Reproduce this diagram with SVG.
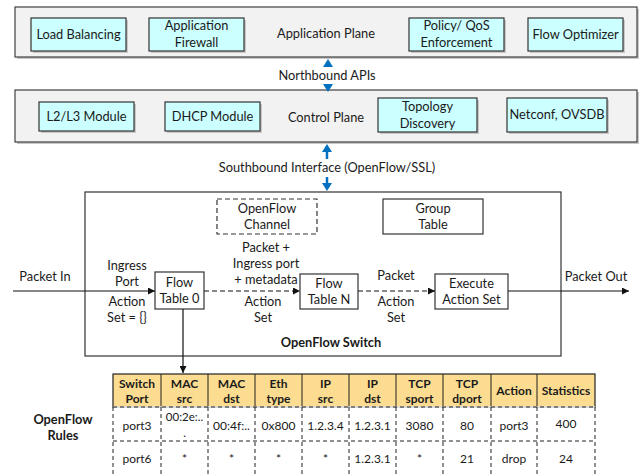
<svg xmlns="http://www.w3.org/2000/svg" width="639" height="474" viewBox="0 0 639 474">
<style>
text{font-family:Lato,"Open Sans","Liberation Sans",sans-serif;font-size:12.8px;fill:#1a1a1a;text-anchor:middle}
.b{font-weight:bold}
.t{font-size:12px}
.panel{fill:#f2f2f2;stroke:#404040;stroke-width:1.2}
.mod{fill:#ccffff;stroke:#333;stroke-width:1.2}
.box{fill:#fff;stroke:#333;stroke-width:1.2}
.sh{fill:#c8c8c8}
.ln{stroke:#111;stroke-width:1.2;fill:none}
.dl{stroke:#111;stroke-width:1.2;fill:none;stroke-dasharray:5,3}
.hd{fill:#fbdc90;stroke:#222;stroke-width:1.2}
.td{stroke:#222;stroke-width:1;stroke-dasharray:4,3;fill:none}
.blue{fill:#0070c0}
.bs{stroke:#0070c0;stroke-width:2.5}
</style>
<defs>
<marker id="ah" viewBox="0 0 10 10" refX="10" refY="5" markerWidth="7" markerHeight="7" orient="auto" markerUnits="userSpaceOnUse"><path d="M0,0L10,5L0,10z" fill="#111"/></marker>
</defs>

<g id="application-plane">
<rect class="sh" x="17" y="9" width="622" height="50"/>
<rect class="panel" x="15" y="7" width="622" height="50"/>
<text x="326" y="38">Application Plane</text>
</g>
<g id="load-balancing"><rect class="sh" x="33" y="20" width="95" height="33"/><rect class="mod" x="31" y="18" width="95" height="33"/><text x="78.5" y="39">Load Balancing</text></g>
<g id="app-firewall"><rect class="sh" x="151" y="20" width="95" height="33"/><rect class="mod" x="149" y="18" width="95" height="33"/><text x="196.5" y="30">Application</text><text x="196.5" y="47">Firewall</text></g>
<g id="policy-qos"><rect class="sh" x="411" y="20" width="95" height="33"/><rect class="mod" x="409" y="18" width="95" height="33"/><text x="456.5" y="30">Policy/ QoS</text><text x="456.5" y="47">Enforcement</text></g>
<g id="flow-optimizer"><rect class="sh" x="530" y="20" width="95" height="33"/><rect class="mod" x="528" y="18" width="95" height="33"/><text x="575.5" y="39">Flow Optimizer</text></g>

<g id="control-plane">
<rect class="sh" x="17" y="92" width="622" height="52"/>
<rect class="panel" x="15" y="90" width="622" height="52"/>
<text x="326" y="122">Control Plane</text>
</g>
<g id="l2l3"><rect class="sh" x="41" y="104" width="95" height="29"/><rect class="mod" x="39" y="102" width="95" height="29"/><text x="86.5" y="121">L2/L3 Module</text></g>
<g id="dhcp"><rect class="sh" x="167" y="104" width="95" height="29"/><rect class="mod" x="165" y="102" width="95" height="29"/><text x="212.5" y="121">DHCP Module</text></g>
<g id="topology"><rect class="sh" x="380" y="100" width="99" height="34"/><rect class="mod" x="378" y="98" width="99" height="34"/><text x="427.5" y="111">Topology</text><text x="427.5" y="128">Discovery</text></g>
<g id="netconf"><rect class="sh" x="509" y="100" width="100" height="34"/><rect class="mod" x="507" y="98" width="100" height="34"/><text x="557" y="119">Netconf, OVSDB</text></g>

<g id="northbound">
<text x="327" y="80">Northbound APIs</text>
<path class="blue" d="M323,67L328,59L333,67z"/>
<path class="blue" d="M323,84L328,92L333,84z"/>
</g>
<g id="southbound">
<text x="327" y="172">Southbound Interface (OpenFlow/SSL)</text>
<line class="bs" x1="327" y1="150" x2="327" y2="159"/>
<path class="blue" d="M322,152L327,144L332,152z"/>
<line class="bs" x1="327" y1="177" x2="327" y2="185"/>
<path class="blue" d="M322,183L327,191L332,183z"/>
</g>

<g id="openflow-switch">
<rect x="85" y="192" width="476" height="164" fill="#fff" stroke="#333" stroke-width="1.2"/>
<text class="b" x="331" y="347">OpenFlow Switch</text>
</g>
<g id="openflow-channel"><rect x="217" y="199" width="100" height="35" fill="#fff" stroke="#333" stroke-width="1.2" stroke-dasharray="5,3"/><text x="267" y="213">OpenFlow</text><text x="267" y="229">Channel</text></g>
<g id="group-table"><rect class="box" x="383" y="199" width="100" height="35"/><text x="433" y="213">Group</text><text x="433" y="229">Table</text></g>
<g id="flow-table-0"><rect class="box" x="155" y="272" width="49" height="37"/><text x="179.5" y="287">Flow</text><text x="179.5" y="303">Table 0</text></g>
<g id="flow-table-n"><rect class="box" x="300" y="274" width="58" height="35"/><text x="329" y="288">Flow</text><text x="329" y="304">Table N</text></g>
<g id="execute-action-set"><rect class="box" x="435" y="274" width="73" height="35"/><text x="471.5" y="288">Execute</text><text x="471.5" y="304">Action Set</text></g>

<g id="connectors">
<line class="ln" x1="13" y1="291" x2="155" y2="291" marker-end="url(#ah)"/>
<line class="dl" x1="204" y1="291" x2="300" y2="291" marker-end="url(#ah)"/>
<line class="dl" x1="358" y1="291" x2="435" y2="291" marker-end="url(#ah)"/>
<line class="ln" x1="508" y1="291" x2="629" y2="291" marker-end="url(#ah)"/>
<line class="ln" x1="183" y1="309" x2="183" y2="373" marker-end="url(#ah)"/>
</g>

<g id="labels">
<text x="45" y="281">Packet In</text>
<text x="127" y="270">Ingress</text>
<text x="127" y="286">Port</text>
<text x="127" y="306">Action</text>
<text x="127" y="322">Set = {}</text>
<text x="266" y="252">Packet +</text>
<text x="266" y="268">Ingress port</text>
<text x="266" y="284">+ metadata</text>
<text x="263" y="306">Action</text>
<text x="263" y="322">Set</text>
<text x="396" y="280">Packet</text>
<text x="396" y="306">Action</text>
<text x="396" y="322">Set</text>
<text x="596" y="281">Packet Out</text>
<text class="b" x="63" y="424">OpenFlow</text>
<text class="b" x="63" y="440">Rules</text>
</g>

<g id="rules-table">
<rect class="hd" x="113" y="374" width="482" height="33"/>
<g stroke="#222" stroke-width="1">
<line x1="161" y1="374" x2="161" y2="407"/><line x1="208" y1="374" x2="208" y2="407"/><line x1="255" y1="374" x2="255" y2="407"/><line x1="302" y1="374" x2="302" y2="407"/><line x1="349" y1="374" x2="349" y2="407"/><line x1="396" y1="374" x2="396" y2="407"/><line x1="443" y1="374" x2="443" y2="407"/><line x1="491" y1="374" x2="491" y2="407"/><line x1="537" y1="374" x2="537" y2="407"/>
</g>
<g class="td">
<line x1="113" y1="407" x2="595" y2="407" stroke="#fff" stroke-dasharray="none" stroke-width="1.5"/>
<line x1="113" y1="407" x2="595" y2="407"/>
<line x1="113" y1="441" x2="595" y2="441"/>
<line x1="113" y1="407" x2="113" y2="474"/><line x1="161" y1="407" x2="161" y2="474"/><line x1="208" y1="407" x2="208" y2="474"/><line x1="255" y1="407" x2="255" y2="474"/><line x1="302" y1="407" x2="302" y2="474"/><line x1="349" y1="407" x2="349" y2="474"/><line x1="396" y1="407" x2="396" y2="474"/><line x1="443" y1="407" x2="443" y2="474"/><line x1="491" y1="407" x2="491" y2="474"/><line x1="537" y1="407" x2="537" y2="474"/><line x1="595" y1="407" x2="595" y2="474"/>
</g>
<g>
<text class="b t" x="137" y="388">Switch</text><text class="b t" x="137" y="403">Port</text>
<text class="b t" x="184.5" y="388">MAC</text><text class="b t" x="184.5" y="403">src</text>
<text class="b t" x="231.5" y="388">MAC</text><text class="b t" x="231.5" y="403">dst</text>
<text class="b t" x="278.5" y="388">Eth</text><text class="b t" x="278.5" y="403">type</text>
<text class="b t" x="325.5" y="388">IP</text><text class="b t" x="325.5" y="403">src</text>
<text class="b t" x="372.5" y="388">IP</text><text class="b t" x="372.5" y="403">dst</text>
<text class="b t" x="419.5" y="388">TCP</text><text class="b t" x="419.5" y="403">sport</text>
<text class="b t" x="467" y="388">TCP</text><text class="b t" x="467" y="403">dport</text>
<text class="b t" x="514" y="395">Action</text>
<text class="b t" x="566" y="395">Statistics</text>
</g>
<text class="t" x="137" y="430">port3</text>
<text x="184.5" y="421" style="font-size:11.5px">00:2e:..</text><text x="184.5" y="437" style="font-size:11.5px">.</text>
<text class="t" x="231.5" y="430">00:4f:..</text>
<text class="t" x="278.5" y="430">0x800</text>
<text class="t" x="325.5" y="430">1.2.3.4</text>
<text class="t" x="372.5" y="430">1.2.3.1</text>
<text class="t" x="419.5" y="430">3080</text>
<text class="t" x="467" y="430">80</text>
<text class="t" x="514" y="430">port3</text>
<text class="t" x="566" y="428">400</text>
<text class="t" x="137" y="463">port6</text>
<text class="t" x="184.5" y="463">*</text>
<text class="t" x="231.5" y="463">*</text>
<text class="t" x="278.5" y="463">*</text>
<text class="t" x="325.5" y="463">*</text>
<text class="t" x="372.5" y="463">1.2.3.1</text>
<text class="t" x="419.5" y="463">*</text>
<text class="t" x="467" y="463">21</text>
<text class="t" x="514" y="463">drop</text>
<text class="t" x="566" y="463">24</text>
</g>
</svg>
